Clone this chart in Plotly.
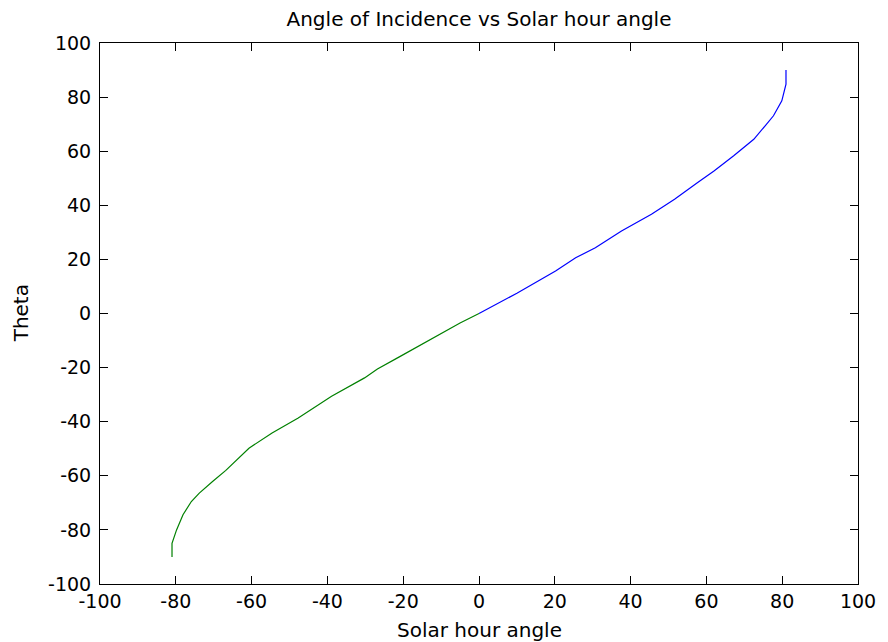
import plotly.graph_objects as go

# Hour angle (x) and angle of incidence theta (y) for negative hour angles
neg_hour_angle = [-81.0, -81.0, -79.8, -78.1, -75.9, -73.8, -70.3, -66.8, -60.7, -54.6,
                  -47.7, -38.9, -30.2, -26.8, -21.5, -10.0, -5.0, 0.0]
neg_theta = [-90.0, -85.0, -80.0, -74.4, -69.5, -66.4, -62.1, -58.0, -49.8, -44.2,
             -38.6, -30.6, -23.8, -20.5, -16.4, -7.5, -3.5, 0.0]

# Positive hour angles
pos_hour_angle = [0.0, 10.0, 20.2, 25.5, 30.7, 37.6, 45.5, 51.6, 57.7, 62.0,
                  67.2, 72.5, 75.5, 77.7, 79.9, 81.0, 81.0]
pos_theta = [0.0, 7.5, 15.7, 20.6, 24.3, 30.5, 36.7, 42.2, 48.4, 52.7,
             58.3, 64.4, 69.4, 73.1, 78.6, 84.8, 90.0]

tick_vals = [-100, -80, -60, -40, -20, 0, 20, 40, 60, 80, 100]
tick_text = ["-100", "-80", "-60", "-40", "-20", "0", "20", "40", "60", "80", "100"]

FONT = "DejaVu Sans"

fig = go.Figure()
fig.add_trace(go.Scatter(x=pos_hour_angle, y=pos_theta, mode="lines",
                         line=dict(color="#0000ff", width=1.2), showlegend=False))
fig.add_trace(go.Scatter(x=neg_hour_angle, y=neg_theta, mode="lines",
                         line=dict(color="#008000", width=1.2), showlegend=False))

axis_common = dict(
    showline=True, linecolor="black", linewidth=1, mirror="ticks",
    ticks="inside", ticklen=8, tickwidth=1, tickcolor="black",
    showgrid=False, zeroline=False,
    tickfont=dict(family=FONT, size=19, color="black"),
    tickvals=tick_vals, ticktext=tick_text,
)

fig.update_layout(
    width=888, height=642,
    margin=dict(l=100, r=22, t=43, b=58),
    paper_bgcolor="white", plot_bgcolor="white",
    xaxis=dict(range=[-100, 100], **axis_common),
    yaxis=dict(range=[-100, 100], ticklabelstandoff=4, **axis_common),
    title=dict(text="Angle of Incidence vs Solar hour angle", x=0.5, xref="paper",
               y=1 - 19 / 642, yref="container", xanchor="center", yanchor="middle",
               font=dict(family=FONT, size=20, color="black")),
    annotations=[
        dict(text="Solar hour angle", x=0.5, xref="paper",
             y=-(630 - 584) / (584 - 43), yref="paper",
             showarrow=False, font=dict(family=FONT, size=20, color="black"),
             xanchor="center", yanchor="middle"),
        dict(text="Theta", x=-(100 - 20) / (866 - 100), xref="paper", y=0.5, yref="paper",
             showarrow=False, textangle=-90, font=dict(family=FONT, size=20, color="black"),
             xanchor="center", yanchor="middle"),
    ],
)

fig.write_html("out.html")
